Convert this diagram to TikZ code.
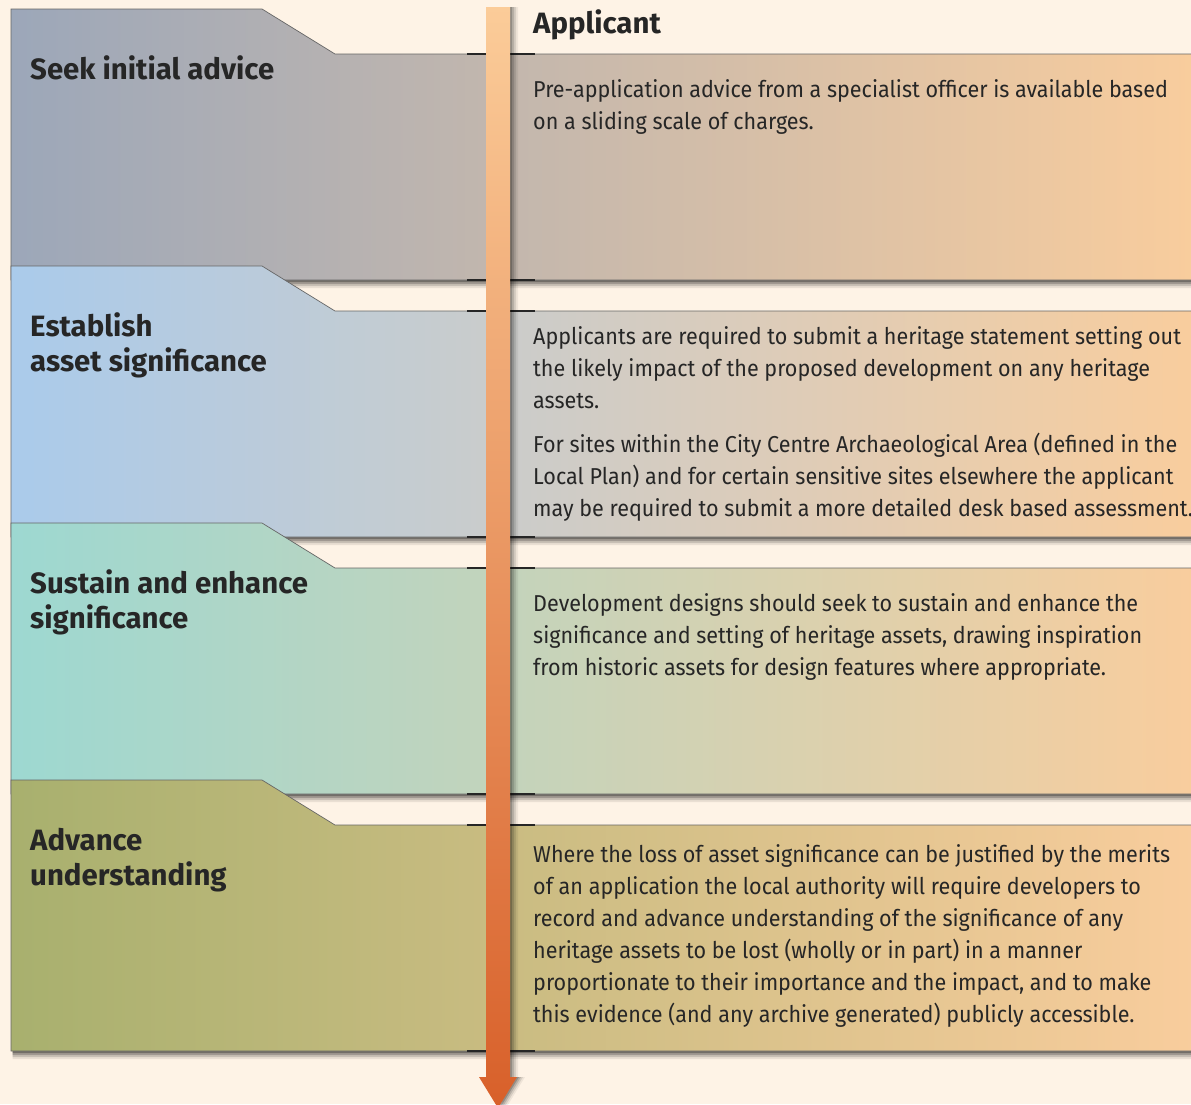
\documentclass[tikz,border=0pt]{standalone}
\usepackage{fontspec}
\setmainfont{Fira Sans}
\newfontfamily\bodyfont{Fira Sans}[FakeStretch=0.937]
\newfontfamily\headfont{Fira Sans}
\definecolor{bgcream}{HTML}{FEF3E6}
\definecolor{peach}{HTML}{F9CD9D}
\definecolor{pone}{HTML}{9CA7B9}
\definecolor{ptwo}{HTML}{AACBEB}
\definecolor{pthree}{HTML}{9DD8D1}
\definecolor{pfour}{HTML}{A8B06E}
\definecolor{panelline}{HTML}{666666}
\definecolor{txt}{HTML}{262626}
\definecolor{arrtop}{HTML}{FBCC99}
\definecolor{arrmid}{HTML}{EE9C62}
\definecolor{arrbot}{HTML}{D8602A}
\tikzset{
  headtext/.style={inner sep=0pt, text=txt, font=\headfont\bfseries\fontsize{29.4}{35}\selectfont},
  bodytext/.style={inner sep=0pt, text=txt, font=\bodyfont\fontsize{23}{32}\selectfont},
  sepline/.style={draw=black!85, line width=1.3pt},
  panelbox/.style={draw=panelline, line width=0.7pt}
}
\begin{document}
\begin{tikzpicture}[x=1pt,y=-1pt]
\useasboundingbox (0,0) rectangle (1191,1104);
\fill[bgcream] (0,0) rectangle (1191,1104);
% panels
\foreach \k/\lc in {0/pone,1/ptwo,2/pthree,3/pfour}{
  \pgfmathsetmacro\t{9+257*\k}
  \foreach \s/\o in {2/0.28,4/0.2,6/0.14,8/0.08}{
    \fill[black,opacity=\o,xshift=1.5pt,yshift=-\s pt]
      (11,\t) -- (262,\t) -- (335,\t+45) -- (1200,\t+45) -- (1200,\t+271) -- (11,\t+271) -- cycle;
  }
  \path[panelbox, left color=\lc, right color=peach]
    (11,\t) -- (262,\t) -- (335,\t+45) -- (1200,\t+45) -- (1200,\t+271) -- (11,\t+271) -- cycle;
}
% separator ticks beside the arrow
\foreach \yy in {54,280,311,537,568,794,825,1051}{
  \draw[sepline] (467,\yy) -- (535,\yy);
}
% arrow shadow
\foreach \s/\o in {2/0.2,4/0.14,6/0.1,8/0.06}{
  \fill[black,opacity=\o,xshift=\s pt]
    (486,7) -- (510,7) -- (510,1077) -- (517,1077) -- (498,1108) -- (479,1077) -- (486,1077) -- cycle;
}
\path[top color=arrtop, middle color=arrmid, bottom color=arrbot]
  (486,7) -- (510,7) -- (510,1077) -- (517,1077) -- (498,1108) -- (479,1077) -- (486,1077) -- cycle;
% headings
\node[headtext, anchor=base west] (applicant) at (533,33) {Applicant};
\node[headtext, anchor=base west] (h1) at (30,79) {Seek initial advice};
\node[headtext, anchor=base west] (h2) at (30,336) {\parbox[t]{400pt}{Establish\\asset significance}};
\node[headtext, anchor=base west] (h3) at (30,593) {\parbox[t]{400pt}{Sustain and enhance\\significance}};
\node[headtext, anchor=base west] (h4) at (30,850) {\parbox[t]{400pt}{Advance\\understanding}};
% body texts
\node[bodytext, anchor=base west] (b1) at (533,97) {\parbox[t]{760pt}{Pre-application advice from a specialist officer is available based\\on a sliding scale of charges.}};
\node[bodytext, anchor=base west] (b2a) at (533,344) {\parbox[t]{760pt}{Applicants are required to submit a heritage statement setting out\\the likely impact of the proposed development on any heritage\\assets.}};
\node[bodytext, anchor=base west] (b2b) at (533,452) {\parbox[t]{760pt}{For sites within the City Centre Archaeological Area (defined in the\\Local Plan) and for certain sensitive sites elsewhere the applicant\\may be required to submit a more detailed desk based assessment.}};
\node[bodytext, anchor=base west] (b3) at (533,611) {\parbox[t]{760pt}{Development designs should seek to sustain and enhance the\\significance and setting of heritage assets, drawing inspiration\\from historic assets for design features where appropriate.}};
\node[bodytext, anchor=base west] (b4) at (533,862) {\parbox[t]{760pt}{Where the loss of asset significance can be justified by the merits\\of an application the local authority will require developers to\\record and advance understanding of the significance of any\\heritage assets to be lost (wholly or in part) in a manner\\proportionate to their importance and the impact, and to make\\this evidence (and any archive generated) publicly accessible.}};
\end{tikzpicture}
\end{document}
